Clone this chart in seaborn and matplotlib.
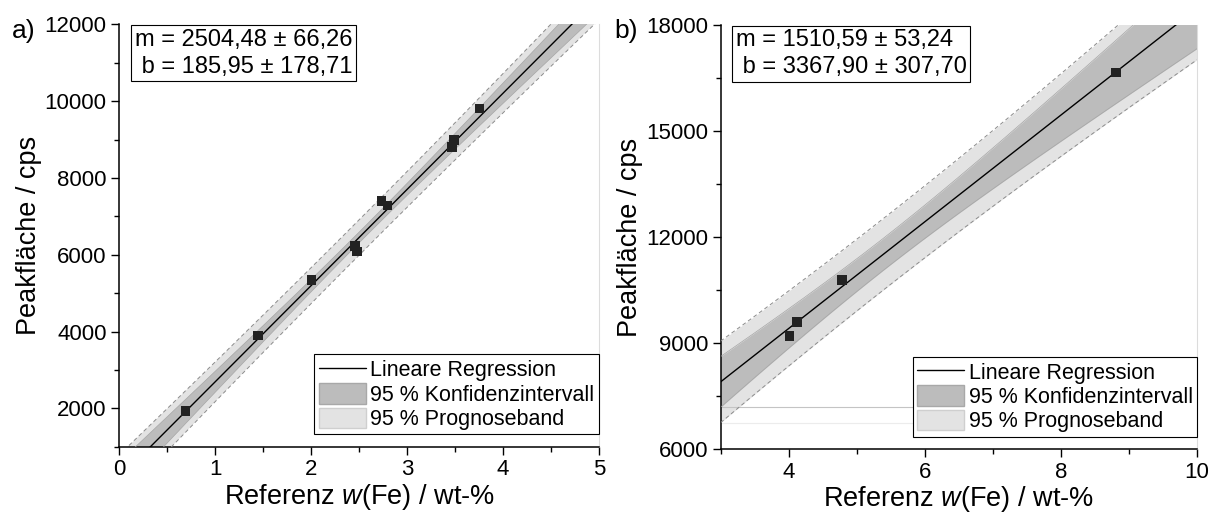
import numpy as np
import seaborn as sns
import matplotlib.pyplot as plt
from matplotlib.lines import Line2D
from matplotlib.patches import Patch
from matplotlib.ticker import MultipleLocator, StrMethodFormatter

# panel a)
fe_a = [0.692, 1.448, 2.004, 2.455, 2.479, 2.734, 2.796, 3.469, 3.487, 3.757]
area_a = [1930, 3900, 5340, 6230, 6080, 7400, 7280, 8800, 8990, 9810]
slope_a = (2504.48, 66.26)
intercept_a = (185.95, 178.71)

# panel b)
fe_b = [4.01, 4.12, 4.78, 8.81]
area_b = [9200, 9600, 10780, 16660]
slope_b = (1510.59, 53.24)
intercept_b = (3367.90, 307.70)

legend_labels = ["Lineare Regression", "95 % Konfidenzintervall", "95 % Prognoseband"]

# two-sided 95 % t values by degrees of freedom
T95 = {2: 4.303, 8: 2.306}

CI_COLOR = "#bcbcbc"
PI_COLOR = "#e3e3e3"

sns.set_theme(style="ticks")
plt.rcParams["font.family"] = ["Liberation Sans", "DejaVu Sans"]
plt.rcParams["mathtext.fontset"] = "custom"
plt.rcParams["mathtext.rm"] = "Liberation Sans"
plt.rcParams["mathtext.it"] = "Liberation Sans:italic"
for key in ("text.color", "axes.labelcolor", "xtick.color", "ytick.color"):
    plt.rcParams[key] = "black"


def bands(x, slope, xs):
    # confidence / prediction half widths of a straight line fit
    x = np.asarray(x, dtype=float)
    n = len(x)
    sxx = np.sum((x - x.mean()) ** 2)
    s = slope[1] * np.sqrt(sxx)
    t = T95[n - 2]
    base = 1.0 / n + (xs - x.mean()) ** 2 / sxx
    return t * s * np.sqrt(base), t * s * np.sqrt(1.0 + base)


def draw_panel(ax, fe, area, slope, intercept, xlim, ylim, artifact=False):
    xs = np.linspace(xlim[0], xlim[1], 300)
    fit = slope[0] * xs + intercept[0]
    ci, pi = bands(fe, slope, xs)

    ax.fill_between(xs, fit - pi, fit + pi, color=PI_COLOR, lw=0, zorder=1)
    ax.fill_between(xs, fit - ci, fit + ci, color=CI_COLOR, lw=0, zorder=2)
    for sign in (-1, 1):
        ax.plot(xs, fit + sign * pi, color="#8c8c8c", lw=0.7, ls=(0, (4, 3)), zorder=3)
        ax.plot(xs, fit + sign * ci, color="#a6a6a6", lw=0.5, zorder=3)
    if artifact:
        # the original export leaves the lower band edges drawn flat across
        ax.axhline(fit[0] - ci[0], color="#c4c4c4", lw=0.8, zorder=2.5)
        ax.axhline(fit[0] - pi[0], color="#ececec", lw=0.8, zorder=2.5)

    sns.lineplot(x=xs, y=fit, color="black", lw=1.0, ax=ax, zorder=4, errorbar=None)
    sns.scatterplot(x=fe, y=area, marker="s", s=48, color="#222222",
                    edgecolor="none", ax=ax, zorder=5)

    ax.set_xlim(*xlim)
    ax.set_ylim(*ylim)
    ax.set_xlabel("Referenz $\\mathit{w}$(Fe) / wt-%", fontsize=19.5, labelpad=1)
    ax.set_ylabel("Peakfläche / cps", fontsize=19.5, labelpad=2)
    ax.yaxis.set_major_formatter(StrMethodFormatter("{x:.0f}"))
    ax.tick_params(which="major", length=6, width=1.0, labelsize=16, pad=3, color="black")
    ax.tick_params(which="minor", length=3.5, width=1.0, color="black")
    for side in ("left", "bottom"):
        ax.spines[side].set_color("black")
        ax.spines[side].set_linewidth(1.1)
    ax.spines["top"].set_visible(False)
    ax.spines["right"].set_color("#dcdcdc")
    ax.spines["right"].set_linewidth(0.8)

    txt = "m = {:.2f} \u00b1 {:.2f}\n b = {:.2f} \u00b1 {:.2f}".format(
        slope[0], slope[1], intercept[0], intercept[1]).replace(".", ",")
    ax.text(0.032, 0.99, txt, transform=ax.transAxes, ha="left", va="top",
            fontsize=17, linespacing=1.3, zorder=10,
            bbox=dict(boxstyle="square,pad=0.15", fc="white", ec="black", lw=0.8))

    handles = [Line2D([], [], color="black", lw=1.0),
               Patch(facecolor=CI_COLOR, edgecolor="#a8a8a8"),
               Patch(facecolor=PI_COLOR, edgecolor="#cfcfcf")]
    leg = ax.legend(handles, legend_labels, loc="lower right",
                    bbox_to_anchor=(1.0, 0.029), borderaxespad=0,
                    fontsize=15.5, frameon=True, fancybox=False,
                    edgecolor="black", framealpha=1, handlelength=2.2,
                    handleheight=1.1, labelspacing=0.08, handletextpad=0.2,
                    borderpad=0.2)
    leg.get_frame().set_linewidth(0.8)
    leg.set_zorder(10)


fig = plt.figure(figsize=(12.18, 5.12), dpi=100)
ax_a = fig.add_axes([0.0979, 0.1275, 0.3938, 0.825])
ax_b = fig.add_axes([0.5916, 0.123, 0.3912, 0.828])

draw_panel(ax_a, fe_a, area_a, slope_a, intercept_a, (0, 5), (1000, 12000))
ax_a.xaxis.set_major_locator(MultipleLocator(1))
ax_a.xaxis.set_minor_locator(MultipleLocator(0.5))
ax_a.yaxis.set_major_locator(MultipleLocator(2000))
ax_a.yaxis.set_minor_locator(MultipleLocator(1000))

draw_panel(ax_b, fe_b, area_b, slope_b, intercept_b, (3, 10), (6000, 18000), artifact=True)
ax_b.set_xticks([4, 6, 8, 10])
ax_b.xaxis.set_minor_locator(MultipleLocator(1))
ax_b.yaxis.set_major_locator(MultipleLocator(3000))
ax_b.yaxis.set_minor_locator(MultipleLocator(1500))

fig.text(12 / 1218, 1 - 38 / 512, "a)", fontsize=19, va="baseline", ha="left")
fig.text(614 / 1218, 1 - 38 / 512, "b)", fontsize=19, va="baseline", ha="left")

fig.savefig("out.png", dpi=100)
